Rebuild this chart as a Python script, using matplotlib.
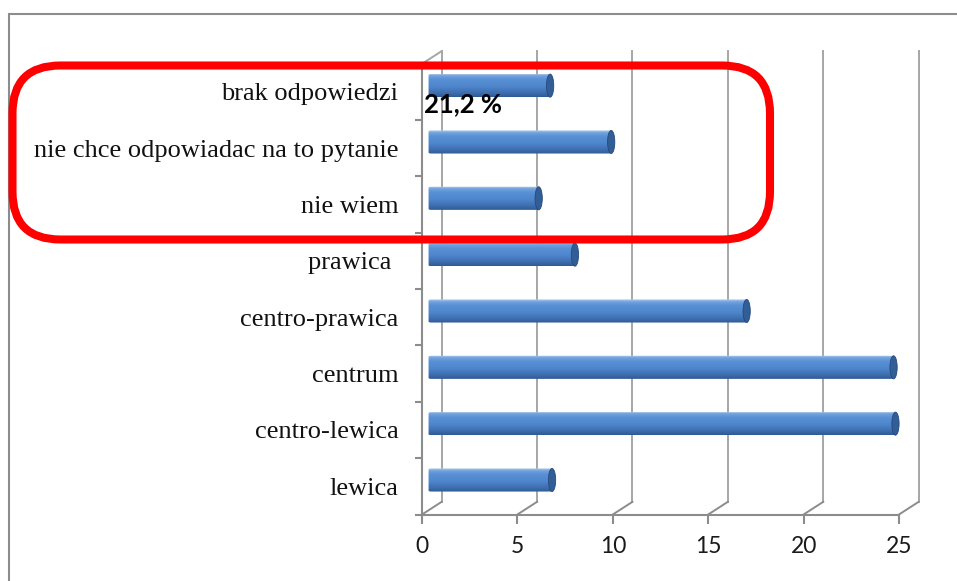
import numpy as np
import matplotlib

matplotlib.use("Agg")
import matplotlib.pyplot as plt
from matplotlib.patches import Ellipse, FancyBboxPatch
from matplotlib.colors import LinearSegmentedColormap

# data (bottom to top)
categories = ["lewica", "centro-lewica", "centrum", "centro-prawica", "prawica ",
              "nie wiem", "nie chce odpowiadac na to pytanie", "brak odpowiedzi"]
values = [6.3, 24.3, 24.2, 16.5, 7.5, 5.6, 9.4, 6.2]
x_ticks = [0, 5, 10, 15, 20, 25]
note_text = "21,2 %"

W, H = 957, 581
fig = plt.figure(figsize=(W / 100, H / 100), dpi=100)

# front plane of the pseudo-3D plot
x0_px, x1_px = 422, 899
y_bot_px, y_top_px = 514.5, 63.8
ax = fig.add_axes([x0_px / W, 1 - y_bot_px / H, (x1_px - x0_px) / W, (y_bot_px - y_top_px) / H])
ax.set_xlim(0, 25)
ax.set_ylim(0, len(categories))
ax.patch.set_alpha(0)

grid_col = "#8c8c8c"
back_col = "#a6a6a6"
ddx, ddy = 1.03, 0.225  # depth offset in data units

for s in ["top", "right"]:
    ax.spines[s].set_visible(False)
for s in ["left", "bottom"]:
    ax.spines[s].set_color(grid_col)
    ax.spines[s].set_linewidth(1.5)

ax.set_xticks(x_ticks)
ax.set_xticklabels([str(t) for t in x_ticks], fontfamily="Lato", fontsize=16.5, color="#1a1a1a")
ax.tick_params(axis="x", direction="out", length=6.5, width=1.5, color=grid_col, pad=9)

n = len(categories)
ax.set_yticks(np.arange(n) + 0.5)
ax.set_yticklabels(categories, fontfamily="Liberation Serif", fontsize=19, color="#111111")
ax.tick_params(axis="y", which="major", length=0, pad=17)
ax.set_yticks(np.arange(n + 1), minor=True)
ax.tick_params(axis="y", which="minor", direction="out", length=5, width=1.5, color=grid_col)

# back wall gridlines and floor diagonals
for t in x_ticks:
    ax.plot([t + ddx, t + ddx], [ddy, n + ddy], color=back_col, lw=1.4, clip_on=False, zorder=1)
    ax.plot([t, t + ddx], [0, ddy], color=grid_col, lw=1.4, clip_on=False, zorder=1)
ax.plot([0, ddx], [n, n + ddy], color=back_col, lw=1.4, clip_on=False, zorder=1)

# cylinder bars
cmap = LinearSegmentedColormap.from_list(
    "cyl", [(0.0, "#2f5b92"), (0.15, "#3c6cad"), (0.45, "#4f86cc"),
            (0.75, "#5891d6"), (0.9, "#74a3de"), (1.0, "#b4cdec")])
grad = np.linspace(0, 1, 64).reshape(-1, 1)
bh = 0.205
cw = 0.19
for i, v in enumerate(values):
    yc = i + 0.5 + ddy / 2
    xa, xb = ddx / 2, ddx / 2 + v
    body = FancyBboxPatch((xa - cw * 0.9, yc - bh), xb - xa + cw * 0.9, 2 * bh,
                          boxstyle="round,pad=0,rounding_size=0.12",
                          mutation_aspect=1 / 6, transform=ax.transData,
                          facecolor="none", edgecolor="none")
    ax.add_patch(body)
    img = ax.imshow(grad, extent=(xa - cw, xb, yc - bh, yc + bh), origin="lower",
                    cmap=cmap, aspect="auto", interpolation="bilinear", zorder=3)
    img.set_clip_path(body)
    ax.add_patch(Ellipse((xb, yc), 2 * cw, 2 * bh, facecolor="#315e96",
                         edgecolor="#27497a", lw=0.6, zorder=4, clip_on=False))

ax.set_xlim(0, 25)
ax.set_ylim(0, n)

# annotation and highlight box
fig.text(424 / W, 1 - 104 / H, note_text, fontfamily="Lato", fontweight="bold",
         fontsize=18.5, color="black", va="center", ha="left", zorder=10)

box = FancyBboxPatch((12.5 / W, 1 - 239.5 / H), (770 - 12.5) / W, (239.5 - 65.5) / H,
                     boxstyle="round,pad=0,rounding_size=0.05", mutation_aspect=W / H,
                     transform=fig.transFigure, facecolor="none", edgecolor="#ff0000",
                     lw=5.8, zorder=10)
fig.patches.append(box)

# outer chart frame
frame = plt.Rectangle((8.5 / W, -0.1), 1.2, 1 - 13.5 / H + 0.1, transform=fig.transFigure,
                      facecolor="none", edgecolor="#8c8c8c", lw=1.5)
fig.patches.append(frame)

fig.savefig("out.png", dpi=100)
